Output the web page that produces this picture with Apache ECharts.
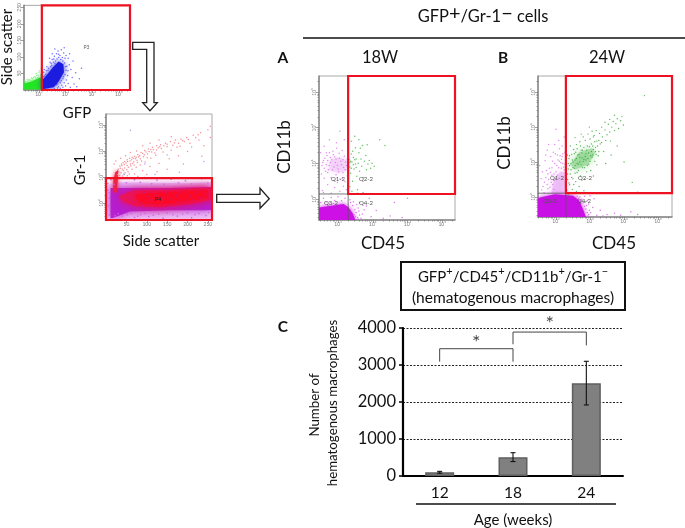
<!DOCTYPE html>
<html><head><meta charset="utf-8">
<style>html,body{margin:0;padding:0;background:#fff}#c{width:685px;height:528px}</style>
<script src="https://cdn.jsdelivr.net/npm/echarts@6/dist/echarts.min.js"></script>
</head><body><div id="c"></div>
<script>
// ---------- bar chart values ----------
const ages = ['12','18','24'];
const macrophages = [100,510,2510];
const macrophageErr = [25,120,590];
const bracketLeft = [[0.5,3090],[0.5,3440],[1.5,3440],[1.5,3090]];
const bracketRight = [[1.5,3560],[1.5,3890],[2.5,3890],[2.5,3530]];
const stars = [[1,3600],[2,4110]];
// ---------- axis ticks (log10 units on fluorescence axes) ----------
const decades = [2,3,4,5];
const decadeLabels = {2:'10²',3:'10³',4:'10⁴',5:'10⁵'};
const minorOffsets = [0.3,0.48,0.6,0.7,0.78,0.85,0.9,0.95];
const scatterTicks = [50,100,150,200,250];
// ---------- gate 1: side scatter vs GFP ----------
const gfpGreenCore = [[1.44,2],[1.44,20],[1.7,25],[1.95,34],[2.11,40],[2.11,2]];
const gfpBlueCore = [[2.13,2],[2.13,30],[2.32,48],[2.52,68],[2.74,86],[2.92,78],[2.94,54],[2.74,26],[2.56,8]];
const gfpGreenSpecks = [[1.5,26],[1.62,30],[1.75,34],[1.85,40],[1.98,44],[2.05,48],[1.7,29],[1.9,50],[2.03,58],[1.58,27],[1.8,38],[2.08,66],[1.95,37],[1.66,31],[2,54],[1.48,24],[1.56,32],[1.72,36],[1.88,36],[2.06,44],[1.92,44],[2.1,52],[1.46,28],[1.78,30]];
const gfpBlueSpecks = [[2.2,62],[2.3,70],[2.42,84],[2.5,92],[2.58,102],[2.66,110],[2.72,118],[2.84,122],[2.93,112],[3.02,104],[3.1,96],[3.14,76],[3.2,62],[3.08,44],[3.03,30],[2.95,22],[2.86,14],[2.74,10],[3.25,38],[3.32,18],[3.42,10],[3.52,34],[3.18,8],[2.26,48],[2.18,54],[2.36,66],[2.48,74],[2.62,88],[2.79,104],[2.88,98],[2.98,96],[3.05,72],[3.09,58],[2.92,40],[2.84,28],[2.7,18],[3.6,66],[2.4,96],[2.5,110],[2.95,128],[2.6,124],[3.15,110],[3.28,88],[3.38,52],[2.16,40],[2.22,42],[2.28,58],[2.34,60],[2.44,70],[2.54,84],[2.6,80],[2.68,94],[2.74,98],[2.82,92],[2.9,88],[2.96,82],[3,70],[3.02,60],[2.98,46],[2.9,34],[2.8,22],[2.66,16],[2.58,4],[2.7,6],[2.8,5],[2.9,8],[3,12],[3.1,20],[2.74,108],[2.56,94],[2.46,80]];
// ---------- gate 2: Gr-1 vs side scatter ----------
const grPale = [[2,1.38],[2,2.68],[30,2.8],[100,2.78],[200,2.76],[260,2.8],[260,1.38]];
const grPurple = [[11,1.42],[11,2.58],[59,2.58],[157,2.58],[260,2.62],[260,1.72],[157,1.72],[59,1.68],[15,1.42]];
const grRed = [[32,2.28],[66,2.48],[157,2.5],[260,2.6],[260,2.12],[206,1.96],[132,1.84],[71,1.88],[38,2.06]];
const grRedInner = [[70,2.34],[150,2.42],[250,2.5],[250,2.2],[190,2.04],[130,1.94],[80,2]];
const grSpike = [[18,2.42],[18,2.9],[23,3.18],[30,3.28],[29,2.9],[27,2.42]];
const grTail = [[30,3.3],[34,3.42],[38,3.5],[42,3.55],[46,3.6],[52,3.66],[58,3.72],[64,3.76],[70,3.8],[78,3.86],[86,3.94],[95,4.02],[104,4.08],[114,4.14],[124,4.2],[134,4.24],[146,4.3],[158,4.36],[170,4.42],[184,4.46],[198,4.52],[214,4.6],[232,4.7],[250,4.82],[40,3.3],[46,3.35],[52,3.44],[60,3.5],[68,3.58],[76,3.64],[84,3.7],[92,3.78],[102,3.88],[112,3.96],[124,4.04],[136,4.1],[150,4.16],[164,4.22],[178,4.3],[192,4.36],[44,3.12],[54,3.2],[64,3.3],[74,3.38],[84,3.46],[96,3.58],[110,3.72],[122,3.84],[140,3.96],[160,4.04],[182,4.18],[206,4.3],[228,4.42],[52,3.05],[70,3.12],[90,3.24],[108,3.4],[130,3.52],[155,3.7],[178,3.82],[200,3.98],[240,4.2],[256,4.52],[256,4.95],[20,3.5],[24,3.62],[36,3.72],[48,3.82],[60,3.94],[75,4.0],[90,4.2],[108,4.3],[130,4.42],[160,4.55],[78,3.02],[100,3.1],[125,3.2],[150,3.3],[190,3.5],[235,3.8],
 [28,3.1],[31,3.2],[33,3.06],[35,3.34],[37,3.16],[39,3.44],[41,3.04],[43,3.24],[45,3.48],[47,3.16],[49,3.54],[51,3.28],[53,3.6],[55,3.38],[57,3.12],[59,3.62],[61,3.42],[63,3.66],[65,3.52],[67,3.72],[69,3.46],[72,3.7],[74,3.76],[77,3.56],[80,3.78],[83,3.82],[87,3.62],[90,3.9],[94,3.86],[98,3.96],[101,3.74],[106,3.98],[110,4.06],[116,4.06],[120,3.92],[128,4.12],[132,4.16],[142,4.2],[150,4.26],[168,4.32],[174,4.14],[188,4.4],[202,4.44],[220,4.52],[226,4.62]];
const grBlueSpecks = [[60,4.8],[95,3.5],[150,3.85],[210,4.15],[240,3.6],[120,3.1],[45,3.1],[180,3.18],[250,2.95]];
const grFringe = [[5,2.75],[12,2.9],[40,2.95],[70,2.9],[95,2.98],[125,2.88],[160,2.92],[195,2.86],[235,2.94],[8,2.2],[6,1.9],[8,1.55],[40,1.5],[70,1.45],[105,1.48],[140,1.42],[175,1.5],[210,1.44],[245,1.52],[30,1.6],[85,1.56],[130,1.58],[188,1.58],[228,1.6],[22,1.52],[52,1.56],[62,1.62],[78,1.5],[96,1.6],[116,1.54],[150,1.62],[164,1.56],[200,1.62],[218,1.56],[252,1.64],[20,2.72],[50,2.78],[84,2.8],[112,2.74],[142,2.72],[178,2.78],[210,2.74],[250,2.78],[4,2.5],[7,2.4]];
const grTexture = [[60,2.2],[72,2.34],[84,2.02],[96,2.4],[110,2.12],[122,2.3],[136,1.98],[148,2.42],[160,2.14],[172,2.3],[184,2.42],[196,2.1],[208,2.28],[220,2.42],[232,2.2],[244,2.34],[254,2.26],[66,2.06],[102,2.24],[140,2.2],[178,2.04],[214,2.12],[238,2.5],[90,1.88],[116,1.82],[152,1.86],[186,1.9],[224,1.96],[248,2.02]];
// ---------- panel A ----------
const aDense = [[1.45,1.41],[1.45,1.76],[1.77,1.8],[2.16,1.86],[2.3,1.76],[2.42,1.6],[2.5,1.41]];
const aPinkCore = [[1.74,2.8],[1.76,3.08],[2,3.16],[2.29,3.08],[2.29,2.8],[2,2.74]];
const aPink = [[1.56,3.02],[1.62,3.14],[1.6,2.86],[1.68,3.22],[1.7,2.74],[1.75,3.3],[1.78,3.02],[1.8,2.6],[1.85,3.34],[1.88,2.9],[1.9,3.18],[1.94,2.68],[1.96,3.42],[2,2.84],[2.03,3.28],[2.06,2.56],[2.08,3.06],[2.12,3.36],[2.14,2.74],[2.18,3.2],[2.2,2.48],[2.24,2.94],[2.26,3.12],[2.27,2.66],[1.66,2.96],[1.72,2.82],[1.82,3.1],[1.92,3.02],[1.98,2.94],[2.1,2.96],[2.16,2.88],[2.22,3.04],[1.6,2.58],[1.7,2.4],[1.9,2.32],[2.05,2.22],[2.15,2.36],[2.24,2.26],[1.55,2.24],[1.8,2.16],[1.75,3.66],[1.95,3.58],[2.18,3.66],[2.05,3.9],[1.5,3.3],[1.6,3.48],[1.58,2.18],[1.98,2.46],[2.12,2.58],[1.86,2.52],[1.54,2.94],[1.58,3.08],[1.64,2.78],[1.74,2.94],[1.78,3.16],[1.84,2.82],[1.86,3.24],[1.94,3.12],[2.02,2.76],[2.04,3.14],[2.14,3.1],[2.2,2.82],[2.28,2.9],[1.7,3.08],[1.52,2.7],[1.66,3.3]];
const aGreen = [[2.32,3.1],[2.34,2.9],[2.36,2.72],[2.38,3.26],[2.4,3.04],[2.42,2.5],[2.44,3.16],[2.46,2.84],[2.5,3.44],[2.5,2.98],[2.52,3.12],[2.54,2.64],[2.56,2.26],[2.58,3],[2.6,3.3],[2.62,2.78],[2.66,3.12],[2.68,2.92],[2.7,3.5],[2.72,2.6],[2.76,3.06],[2.8,3.22],[2.82,2.82],[2.86,2.98],[2.9,3.08],[2.94,2.86],[2.98,3],[3.04,2.92],[2.38,3.62],[2.48,3.76],[2.6,3.66],[2.84,3.52],[3.2,3.66],[3.35,3.5],[2.36,3.06],[2.44,2.96],[2.52,2.88],[2.34,2.34],[2.4,2.22],[2.56,2.16],[2.72,2.18],[2.42,3.34],[2.64,3.42],[2.34,3.02],[2.38,2.86],[2.48,3.1]];
const aFringe = [[2.62,1.9],[2.7,1.58],[2.82,1.8],[2.95,1.5],[3.1,1.68],[3.3,1.46],[3.5,1.52],[3.62,1.9],[3.85,1.48],[2.66,1.46],[2.9,2.02],[2.75,1.7],[2.58,1.75],[2.62,1.55],[4,2.02],[2.42,1.82],[2.48,1.7],[2.52,1.62],[2.56,1.48],[2.36,1.9],[2.44,1.92],[2.54,1.84],[2.6,1.66],[2.5,1.5],[2.46,1.56],[2.58,1.44],[2.34,1.98],[2.1,1.95],[1.9,1.96],[1.65,1.92],[1.5,1.9],[1.8,2.04],[2.0,2.06],[2.2,2.02],[1.58,2.02]];
// ---------- panel B ----------
const bDense = [[1.47,1.43],[1.47,1.97],[1.97,2.08],[2.5,2.04],[2.68,1.9],[2.8,1.63],[2.88,1.43]];
const bPinkCore = [[1.86,2.11],[1.94,2.5],[2.12,2.72],[2.29,2.72],[2.29,2.11]];
const bPink = [[1.62,2.3],[1.7,2.56],[1.76,2.24],[1.8,2.82],[1.86,2.42],[1.9,3.02],[1.94,2.66],[1.98,3.24],[2.02,2.9],[2.06,3.06],[2.1,3.38],[2.14,2.98],[2.18,3.16],[2.22,2.86],[2.26,3.28],[2.28,3.06],[1.6,2.72],[1.68,3.04],[1.74,3.34],[1.84,3.16],[1.96,3.5],[2.08,3.62],[2.18,3.46],[2.24,3.72],[1.56,2.52],[1.72,2.76],[1.88,2.84],[2,2.72],[2.12,3.18],[2.2,2.96],[1.78,3.5],[2,3.94],[1.52,2.9],[1.65,2.12],[1.84,2.7],[2.26,2.94],[1.7,3.2],[1.92,3.28],[2.04,3.2],[2.16,3.08],[1.58,2.2],[1.66,2.42],[1.74,2.36],[1.78,2.5],[1.82,2.28],[1.9,2.36],[1.94,2.22],[1.98,2.52],[2.04,2.62],[2.08,2.84],[2.16,2.82],[2.24,2.78],[2.28,2.86],[1.88,2.62],[1.76,2.66],[2.2,3.24],[2.1,3.02],[1.96,2.96]];
const bFringe = [[2.96,1.8],[3.02,1.55],[3.08,1.7],[3.2,1.48],[3.3,1.62],[3.5,1.5],[3.72,1.54],[3.9,1.48],[4.2,1.58],[2.92,1.9],[2.84,2.02],[3.12,1.95],[4.4,1.5],[3,2.04],[3.38,1.46],[2.7,2],[2.76,1.94],[2.8,1.84],[2.84,1.74],[2.88,1.66],[2.92,1.56],[2.94,1.46],[2.72,1.88],[2.62,2.02],[2.66,1.96],[2.98,1.62],[2.9,1.76],[2.86,1.86],[2.96,1.5],[3.04,1.44]];
const bGreenCore = [[2.42,2.92],[2.68,3.28],[3.06,3.4],[3.16,3.26],[2.94,2.92],[2.56,2.78]];
const bGreen = [[2.32,2.2],[2.34,2.5],[2.36,2.8],[2.38,3.1],[2.4,2.35],[2.42,2.66],[2.44,2.96],[2.46,3.22],[2.48,2.22],[2.5,2.52],[2.52,3.36],[2.54,2.82],[2.56,3.06],[2.58,2.44],[2.6,3.5],[2.62,2.7],[2.64,3.2],[2.66,2.94],[2.68,2.3],[2.7,3.58],[2.72,2.6],[2.74,3.34],[2.78,2.84],[2.8,3.72],[2.82,3.08],[2.84,2.5],[2.86,3.62],[2.9,2.72],[2.92,3.46],[2.94,3.8],[2.96,2.94],[3,3.66],[3.02,2.76],[3.06,3.88],[3.08,3.2],[3.1,3.72],[3.14,3.02],[3.18,3.9],[3.2,3.6],[3.24,3.18],[3.28,3.82],[3.3,3.52],[3.34,4],[3.36,3.72],[3.4,3.3],[3.44,3.92],[3.46,3.62],[3.5,3.78],[3.54,4.08],[3.58,3.86],[3.6,3.6],[3.64,4],[3.68,4.16],[3.72,3.9],[3.76,4.1],[3.8,4.24],[3.84,3.96],[3.9,4.18],[3.94,4.3],[3.72,4.34],[3.58,4.22],[3.44,4.14],[3.98,4.06],[4,3],[4.24,2.42],[4.6,4.9],[3.62,3.2],[3.8,3.46],[3.1,2.6],[2.42,3.46],[2.56,3.7],[2.36,2.06],[2.6,2.16],[2.82,2.18],[3.2,2.92],[3.46,2.96],[4.4,2.14],[2.74,3.8],[2.98,4],[3.26,3.3],[3.16,3.42],[2.88,3.24],[3.04,3.3],[2.76,3.12],[2.7,3],[2.5,3],[2.58,3.28],[3.34,3.56],[3.12,3.76],
 [2.36,2.96],[2.4,3.18],[2.44,2.78],[2.48,3.06],[2.5,2.84],[2.54,3.24],[2.56,2.68],[2.6,3.1],[2.62,3.38],[2.66,2.76],[2.68,3.22],[2.72,3.46],[2.74,2.92],[2.76,3.26],[2.8,3.02],[2.82,3.42],[2.84,2.84],[2.86,3.16],[2.9,3.34],[2.92,2.9],[2.94,3.1],[2.98,3.44],[3,3.02],[3.04,3.52],[3.06,3.14],[3.1,3.36],[3.14,3.58],[3.18,3.22],[3.22,3.46],[3.26,3.62],[2.34,2.66],[2.38,2.4],[2.46,2.56],[2.52,2.36],[2.56,2.9],[2.62,2.96],[2.7,3.14],[2.78,3.34],[2.88,3.06],[2.96,3.26],[3.02,3.18],[3.08,3.46],[3.16,3.3],[2.34,3.2],[2.4,2.9]];
// ---------- gates (data units) ----------
const gate1 = [2.11,5.42,0,256];
const gate2 = [0,260,1.35,2.96];
const gateA = [2.29,5.37,2.14,5.45];
const gateB = [2.29,5.41,2.11,5.46];
const quadA = [[[2.29,1.41],[2.29,2.14]],[[1.45,2.14],[2.29,2.14]]];
const quadB = [[[2.29,1.43],[2.29,2.11]],[[1.47,2.11],[2.29,2.11]]];

const FONT='Lato';
const xAxes=[],yAxes=[],grids=[],series=[];
function minor(lo,hi){const t=[];[1,2,3,4,5].forEach(d=>minorOffsets.forEach(o=>{const v=d+o;if(v>lo&&v<hi)t.push(v)}));return t}
function axis(type,gi,lo,hi,ticks,labels,isMinor,rot){
  return {type:'value',gridIndex:gi,min:lo,max:hi,position:type==='x'?'bottom':'left',splitLine:{show:false},
    axisLine:{show:!isMinor,onZero:false,lineStyle:{color:'#888',width:1.5}},
    axisTick:{show:true,customValues:ticks,length:isMinor?1.5:3,lineStyle:{color:'#777',width:.7}},
    axisLabel:isMinor?{show:false}:{show:true,customValues:ticks,rotate:rot,margin:2,fontSize:5,color:'#777',fontFamily:FONT,
      formatter:v=>labels?labels[v]:String(v),showMinLabel:true,showMaxLabel:true,hideOverlap:false}};
}
function panel(box,xr,yr,xLog,yLog){
  const gi=grids.length;
  grids.push({left:box[0],top:box[1],width:box[2],height:box[3],show:true,borderColor:'#aaa',borderWidth:1,backgroundColor:'#fff'});
  const base=xAxes.length, ybase=yAxes.length;
  xAxes.push(axis('x',gi,xr[0],xr[1],xLog?decades:scatterTicks,xLog?decadeLabels:null,false,0));
  yAxes.push(axis('y',gi,yr[0],yr[1],yLog?decades:scatterTicks,yLog?decadeLabels:null,false,90));
  if(xLog)xAxes.push(axis('x',gi,xr[0],xr[1],minor(xr[0],xr[1]),null,true));
  if(yLog)yAxes.push(axis('y',gi,yr[0],yr[1],minor(yr[0],yr[1]),null,true));
  return {x:base,y:ybase};
}
function poly(a,pts,fill,opacity,blur){
  series.push({type:'custom',xAxisIndex:a.x,yAxisIndex:a.y,data:[pts[0]],clip:true,silent:true,
    renderItem:(p,api)=>({type:'polygon',shape:{points:pts.map(q=>api.coord(q))},
      style:{fill:fill,opacity:opacity,shadowBlur:blur||3,shadowColor:fill}})});
}
function specks(a,pts,color,size,opacity){
  series.push({type:'scatter',xAxisIndex:a.x,yAxisIndex:a.y,data:pts,symbolSize:size||1.5,silent:true,
    itemStyle:{color:color,opacity:opacity==null?.75:opacity}});
}
function gate(a,g){
  series.push({type:'custom',xAxisIndex:a.x,yAxisIndex:a.y,data:[[g[0],g[2]]],clip:false,silent:true,z:6,
    renderItem:(p,api)=>{const c1=api.coord([g[0],g[3]]),c2=api.coord([g[1],g[2]]);
      return {type:'rect',shape:{x:c1[0],y:c1[1],width:c2[0]-c1[0],height:c2[1]-c1[1]},
        style:{fill:'none',stroke:'#ee1122',lineWidth:2.2}}}});
}
function quad(a,segs){
  segs.forEach(s=>series.push({type:'line',xAxisIndex:a.x,yAxisIndex:a.y,data:s,symbol:'none',silent:true,z:5,
    lineStyle:{color:'#555',width:.8}}));
}
// Panel 1
const p1=panel([24,2,106,88],[1.44,5.42],[0,256],true,false);
poly(p1,gfpGreenCore,'#22e622',1,3);
specks(p1,gfpGreenSpecks,'#66ee66');
specks(p1,gfpBlueSpecks,'#4a4aff',1.5,.8);
poly(p1,gfpBlueCore,'#1c1ce0',1,6);
gate(p1,gate1);
// Panel 2
const p2=panel([106,114,106,106],[0,260],[1.35,5.42],false,true);
poly(p2,grPale,'#eab8f4',.7,8);
specks(p2,grFringe,'#d060e8',1.7,.85);
poly(p2,grPurple,'#b41cd0',.95,10);
poly(p2,grRed,'#ee1450',.85,10);
poly(p2,grRedInner,'#fa0a28',.95,8);
specks(p2,grTexture,'#b020c0',1.8,.5);
poly(p2,grSpike,'#f02040',.95,4);
specks(p2,grTail,'#f4747c',1.5,.8);
specks(p2,grBlueSpecks,'#8a8aff');
gate(p2,gate2);
// Panel A
const pa=panel([319,76,136,144],[1.45,5.37],[1.41,5.45],true,true);
poly(pa,aPinkCore,'#eab0f6',.4,8);
specks(pa,aPink,'#df78f0',1.5,.85);
specks(pa,aGreen,'#4cbc4c',1.5,.85);
specks(pa,aFringe,'#d860ec',1.5,.85);
poly(pa,aDense,'#cc10e6',1,5);
quad(pa,quadA);
gate(pa,gateA);
// Panel B
const pb=panel([538,76,134,141],[1.47,5.41],[1.43,5.46],true,true);
poly(pb,bPinkCore,'#e08cf2',.4,8);
specks(pb,bPink,'#df78f0',1.5,.85);
poly(pb,bGreenCore,'#44b844',.35,8);
specks(pb,bGreen,'#2ea82e',1.4,.8);
specks(pb,bFringe,'#d860ec',1.5,.85);
poly(pb,bDense,'#c810e4',1,5);
quad(pb,quadB);
gate(pb,gateB);
// Bar chart
const gb=grids.length;
grids.push({left:403,top:328,width:220,height:148});
const bx=xAxes.length, by=yAxes.length;
xAxes.push({type:'category',gridIndex:gb,data:ages,axisLine:{lineStyle:{color:'#000',width:2}},axisTick:{show:false},
  axisLabel:{color:'#111',fontSize:15.5,fontFamily:FONT,margin:9}});
xAxes.push({type:'value',gridIndex:gb,min:0,max:3,show:false});
yAxes.push({type:'value',gridIndex:gb,min:0,max:4000,interval:1000,
  axisLine:{show:true,lineStyle:{color:'#000',width:2.2}},axisTick:{show:true,length:4,lineStyle:{color:'#000',width:1.5}},
  axisLabel:{color:'#111',fontSize:16.5,fontFamily:FONT,margin:7,formatter:v=>String(v)},
  splitLine:{show:true,lineStyle:{color:'#222',type:[2,1.5],width:1}}});
series.push({type:'bar',xAxisIndex:bx,yAxisIndex:by,data:macrophages,barWidth:29,silent:true,
  itemStyle:{color:'#808080',borderColor:'#5f5f5f',borderWidth:1.5}});
series.push({type:'custom',xAxisIndex:bx+1,yAxisIndex:by,silent:true,z:5,clip:false,
  data:macrophages.map((v,i)=>[i+.5,v-macrophageErr[i],v+macrophageErr[i]]),
  renderItem:(p,api)=>{const x=api.value(0),lo=api.coord([x,api.value(1)]),hi=api.coord([x,api.value(2)]),w=2.5;
    const st={stroke:'#111',lineWidth:1.1,fill:'none'};
    return {type:'group',children:[
      {type:'line',shape:{x1:lo[0],y1:lo[1],x2:hi[0],y2:hi[1]},style:st},
      {type:'line',shape:{x1:lo[0]-w,y1:lo[1],x2:lo[0]+w,y2:lo[1]},style:st},
      {type:'line',shape:{x1:hi[0]-w,y1:hi[1],x2:hi[0]+w,y2:hi[1]},style:st}]}}});
[bracketLeft,bracketRight].forEach(b=>series.push({type:'line',xAxisIndex:bx+1,yAxisIndex:by,data:b,symbol:'none',silent:true,
  z:5,clip:false,lineStyle:{color:'#444',width:1}}));
series.push({type:'scatter',xAxisIndex:bx+1,yAxisIndex:by,data:stars,symbolSize:0,clip:false,silent:true,z:6,
  label:{show:true,position:'inside',formatter:'*',fontSize:20,color:'#111',fontFamily:FONT}});

// Text and decoration
function T(text,x,y,size,o){o=o||{};
  return {type:'text',x:x,y:y,rotation:o.rot||0,z:20,silent:true,style:{text:text,fontFamily:FONT,fontSize:size,
    fontWeight:o.bold?'bold':'normal',fill:o.color||'#111',align:'center',verticalAlign:'middle',rich:o.rich}};
}
const R=Math.PI/2;
const rich16={b:{fontSize:16.5,fontFamily:FONT,fill:'#111',lineHeight:26},s:{fontSize:20,fontFamily:FONT,fill:'#111',verticalAlign:'top',lineHeight:6}};
const rich14={b:{fontSize:15,fontFamily:FONT,fill:'#111',lineHeight:22},s:{fontSize:11,fontFamily:FONT,fill:'#111',verticalAlign:'top',lineHeight:12}};
const graphic=[
 T('Side scatter',7,47,15,{rot:R}),T('GFP',77,113,15),T('Gr-1',80,170,15,{rot:R}),T('Side scatter',161,241,15),
 T('P3',86.5,47,5,{color:'#666'}),T('P4',158,199,5.5,{color:'#222'}),
 T('{b|GFP}{s|+}{b|/Gr-1}{s|−}{b| cells}',483,17,16,{rich:rich16}),
 T('A',283,58,15.5,{bold:true}),T('18W',380,58,16.5),T('B',503,58,15.5,{bold:true}),T('24W',607,58,16.5),
 T('CD11b',285,147,17,{rot:R}),T('CD11b',505,143,17,{rot:R}),T('CD45',383,244,17),T('CD45',614,244,17),
 T('Q1-2',338,179,6,{color:'#555'}),T('Q2-2',366,179,6,{color:'#555'}),T('Q3-2',331,203,6,{color:'#555'}),T('Q4-2',366,203,6,{color:'#555'}),
 T('Q1-2',557,178,6,{color:'#555'}),T('Q2-2',585,178,6,{color:'#555'}),T('Q3-2',550,201,6,{color:'#555'}),T('Q4-2',584,201,6,{color:'#555'}),
 T('{b|GFP}{s|+}{b|/CD45}{s|+}{b|/CD11b}{s|+}{b|/Gr-1}{s|−}',513,277,15,{rich:rich14}),
 T('(hematogenous macrophages)',513,298,15.5),
 T('C',283,327,15.5,{bold:true}),
 T('Number of',315,405,13.3,{rot:R}),T('hematogenous macrophages',333,403,13.3,{rot:R}),
 T('Age (weeks)',513,520,15),
 {type:'rect',z:19,silent:true,shape:{x:401,y:262,width:224,height:48},style:{fill:'none',stroke:'#111',lineWidth:2}},
 {type:'line',z:19,silent:true,shape:{x1:303,y1:38,x2:685,y2:38},style:{stroke:'#111',lineWidth:1.5}},
 {type:'line',z:19,silent:true,shape:{x1:416,y1:504,x2:616,y2:504},style:{stroke:'#111',lineWidth:1.5}},
 {type:'polygon',z:19,silent:true,shape:{points:[[132.7,42.3],[154,42.3],[154,102.7],[157.3,102.7],[150,110.7],[142.7,102.7],[146.7,102.7],[146.7,49.3],[132.7,49.3]]},style:{fill:'#fff',stroke:'#222',lineWidth:1.3}},
 {type:'polygon',z:19,silent:true,shape:{points:[[216.7,194.3],[260,194.3],[260,188.3],[269.3,198.7],[260,208.3],[260,202.3],[216.7,202.3]]},style:{fill:'#fff',stroke:'#222',lineWidth:1.3}}
];
const chart=echarts.init(document.getElementById('c'),null,{renderer:'canvas'});
chart.setOption({animation:false,backgroundColor:'#fff',grid:grids,xAxis:xAxes,yAxis:yAxes,series:series,graphic:graphic,tooltip:{show:false}});
</script></body></html>
